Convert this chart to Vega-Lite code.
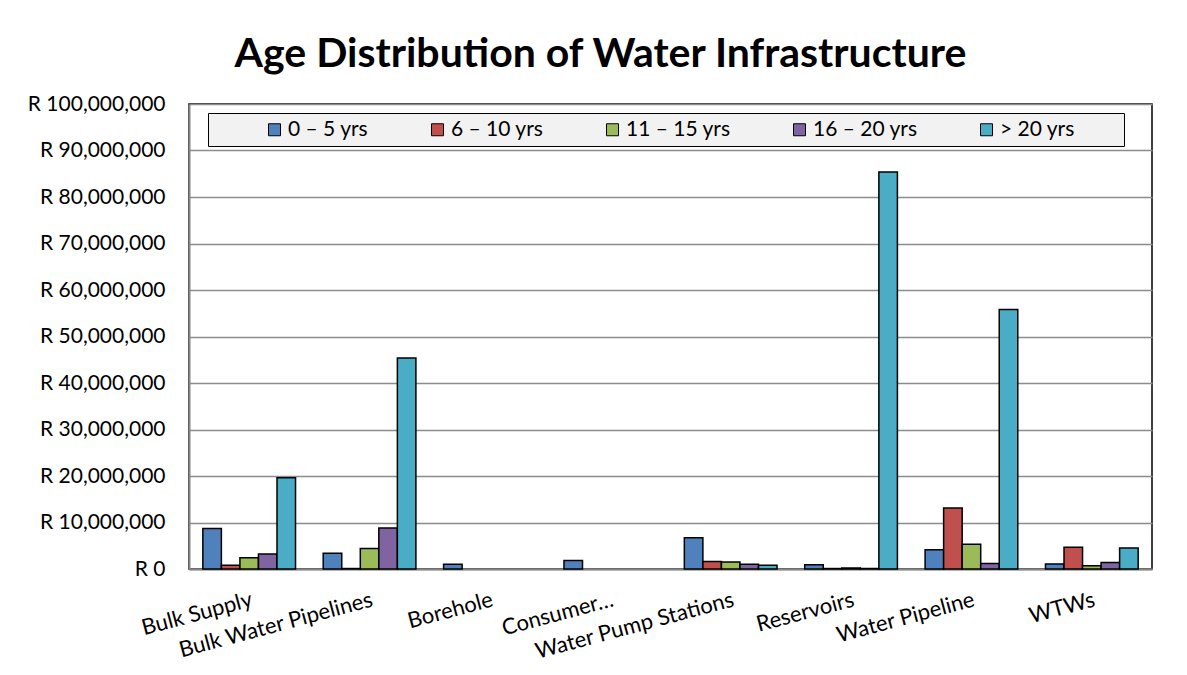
{
  "$schema": "https://vega.github.io/schema/vega-lite/v6.json",
  "autosize": {"type": "none"},
  "padding": {"left": 189, "top": 104, "right": 35, "bottom": 106},
  "width": 963,
  "height": 465,
  "background": "white",
  "title": {
    "text": "Age Distribution of Water Infrastructure",
    "font": "Lato",
    "fontSize": 41,
    "fontWeight": "bold",
    "color": "#000000",
    "anchor": "middle",
    "dx": -70,
    "offset": 17
  },
  "data": {
    "values": [
      {"asset": "Bulk Supply", "age": "0 – 5 yrs", "value": 8700000},
      {"asset": "Bulk Supply", "age": "6 – 10 yrs", "value": 800000},
      {"asset": "Bulk Supply", "age": "11 – 15 yrs", "value": 2400000},
      {"asset": "Bulk Supply", "age": "16 – 20 yrs", "value": 3200000},
      {"asset": "Bulk Supply", "age": "> 20 yrs", "value": 19600000},
      {"asset": "Bulk Water Pipelines", "age": "0 – 5 yrs", "value": 3400000},
      {"asset": "Bulk Water Pipelines", "age": "6 – 10 yrs", "value": 100000},
      {"asset": "Bulk Water Pipelines", "age": "11 – 15 yrs", "value": 4400000},
      {"asset": "Bulk Water Pipelines", "age": "16 – 20 yrs", "value": 8800000},
      {"asset": "Bulk Water Pipelines", "age": "> 20 yrs", "value": 45400000},
      {"asset": "Borehole", "age": "0 – 5 yrs", "value": 1000000},
      {"asset": "Consumer…", "age": "0 – 5 yrs", "value": 1850000},
      {"asset": "Water Pump Stations", "age": "0 – 5 yrs", "value": 6700000},
      {"asset": "Water Pump Stations", "age": "6 – 10 yrs", "value": 1600000},
      {"asset": "Water Pump Stations", "age": "11 – 15 yrs", "value": 1500000},
      {"asset": "Water Pump Stations", "age": "16 – 20 yrs", "value": 1000000},
      {"asset": "Water Pump Stations", "age": "> 20 yrs", "value": 800000},
      {"asset": "Reservoirs", "age": "0 – 5 yrs", "value": 900000},
      {"asset": "Reservoirs", "age": "6 – 10 yrs", "value": 100000},
      {"asset": "Reservoirs", "age": "11 – 15 yrs", "value": 200000},
      {"asset": "Reservoirs", "age": "16 – 20 yrs", "value": 100000},
      {"asset": "Reservoirs", "age": "> 20 yrs", "value": 85400000},
      {"asset": "Water Pipeline", "age": "0 – 5 yrs", "value": 4150000},
      {"asset": "Water Pipeline", "age": "6 – 10 yrs", "value": 13100000},
      {"asset": "Water Pipeline", "age": "11 – 15 yrs", "value": 5300000},
      {"asset": "Water Pipeline", "age": "16 – 20 yrs", "value": 1200000},
      {"asset": "Water Pipeline", "age": "> 20 yrs", "value": 55800000},
      {"asset": "WTWs", "age": "0 – 5 yrs", "value": 1100000},
      {"asset": "WTWs", "age": "6 – 10 yrs", "value": 4700000},
      {"asset": "WTWs", "age": "11 – 15 yrs", "value": 700000},
      {"asset": "WTWs", "age": "16 – 20 yrs", "value": 1400000},
      {"asset": "WTWs", "age": "> 20 yrs", "value": 4500000}
    ]
  },
  "mark": {"type": "bar", "stroke": "#000000", "strokeWidth": 1.5},
  "encoding": {
    "x": {
      "field": "asset",
      "type": "nominal",
      "sort": ["Bulk Supply", "Bulk Water Pipelines", "Borehole", "Consumer…", "Water Pump Stations", "Reservoirs", "Water Pipeline", "WTWs"],
      "scale": {"paddingInner": 0.23, "paddingOuter": 0.115},
      "axis": {
        "title": null,
        "labelAngle": -15,
        "labelAlign": "right",
        "labelBaseline": "top",
        "labelPadding": 20,
        "labelFont": "Lato",
        "labelFontSize": 22,
        "labelColor": "#000000",
        "labelLimit": 300,
        "ticks": false,
        "domainColor": "#868686",
        "domainWidth": 2
      }
    },
    "xOffset": {
      "field": "age",
      "type": "nominal",
      "sort": ["0 – 5 yrs", "6 – 10 yrs", "11 – 15 yrs", "16 – 20 yrs", "> 20 yrs"],
      "scale": {"paddingInner": 0, "paddingOuter": 0}
    },
    "y": {
      "field": "value",
      "type": "quantitative",
      "scale": {"domain": [0, 100000000], "nice": false},
      "axis": {
        "title": null,
        "values": [0, 10000000, 20000000, 30000000, 40000000, 50000000, 60000000, 70000000, 80000000, 90000000, 100000000],
        "labelExpr": "'R ' + format(datum.value, ',')",
        "labelFont": "Lato",
        "labelFontSize": 21,
        "labelColor": "#000000",
        "labelPadding": 24,
        "ticks": false,
        "domainColor": "#868686",
        "domainWidth": 2,
        "grid": true,
        "gridColor": "#8c8c8c",
        "gridWidth": 1.5
      }
    },
    "color": {
      "field": "age",
      "type": "nominal",
      "scale": {
        "domain": ["0 – 5 yrs", "6 – 10 yrs", "11 – 15 yrs", "16 – 20 yrs", "> 20 yrs"],
        "range": ["#4F81BD", "#C0504D", "#9BBB59", "#8064A2", "#4BACC6"]
      },
      "legend": {
        "title": " ",
        "titleOrient": "left",
        "titleFontSize": 10,
        "titlePadding": 50,
        "orient": "none",
        "legendX": 19,
        "legendY": 9,
        "direction": "horizontal",
        "fillColor": "#F2F2F2",
        "strokeColor": "#000000",
        "padding": 6,
        "columnPadding": 58,
        "labelOffset": 3,
        "labelFont": "Lato",
        "labelFontSize": 21,
        "labelColor": "#000000",
        "labelExpr": "datum.label == '> 20 yrs' ? datum.label + '\u00a0\u00a0\u00a0\u00a0\u00a0\u00a0\u00a0\u00a0\u200b' : datum.label",
        "symbolType": "square",
        "symbolSize": 144,
        "symbolStrokeColor": "#000000",
        "symbolStrokeWidth": 1,
        "symbolOpacity": 1
      }
    }
  },
  "config": {
    "view": {"stroke": "#000000", "strokeWidth": 1.5},
    "font": "Lato"
  }
}
